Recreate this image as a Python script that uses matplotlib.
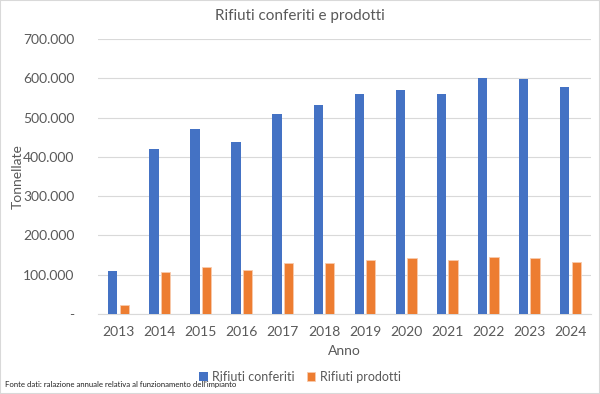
import matplotlib.pyplot as plt
import numpy as np
from matplotlib.ticker import FuncFormatter
from matplotlib.patches import Rectangle

plt.rcParams["font.family"] = ["Lato", "DejaVu Sans"]

# data (tonnes)
anni = ["2013", "2014", "2015", "2016", "2017", "2018",
        "2019", "2020", "2021", "2022", "2023", "2024"]
conferiti = [110000, 419000, 471000, 438000, 510000, 532000,
             561000, 570000, 560000, 600000, 599000, 577000]
prodotti = [22000, 107000, 119000, 112000, 129000, 131000,
            138000, 142000, 138000, 146000, 142000, 133000]

blu = "#4472C4"
arancio = "#ED7D31"
grigio = "#595959"

fig = plt.figure(figsize=(6.0, 3.94), dpi=100)
ax = fig.add_axes([98 / 600, 1 - 314 / 394, (591 - 98) / 600, (314 - 39) / 394])

x = np.arange(len(anni))
w = 0.226
off = 0.14
ax.bar(x - off, conferiti, w, color=blu, label="Rifiuti conferiti", zorder=3)
ax.bar(x + off, prodotti, w, color=arancio, edgecolor="#F8CBAD", linewidth=0.6,
       label="Rifiuti prodotti", zorder=3)

ax.set_xlim(-0.5, len(anni) - 0.5)
ax.set_ylim(0, 700000)
ax.set_yticks(np.arange(0, 700001, 100000))


def fmt(v, pos):
    if v == 0:
        return "-"
    return f"{int(v):,}".replace(",", ".")


ax.yaxis.set_major_formatter(FuncFormatter(fmt))
ax.set_xticks(x)
ax.set_xticklabels(anni)
ax.tick_params(axis="both", length=0, labelsize=10, colors=grigio)
ax.tick_params(axis="y", pad=17)
ax.tick_params(axis="x", pad=9)
ax.grid(axis="y", color="#D9D9D9", linewidth=0.8, zorder=0)
for s in ["top", "right", "left"]:
    ax.spines[s].set_visible(False)
ax.spines["bottom"].set_color("#D9D9D9")
ax.spines["bottom"].set_linewidth(0.8)

ax.set_xlabel("Anno", fontsize=10, color=grigio, labelpad=5)
ax.set_ylabel("Tonnellate", fontsize=10, color=grigio)
ax.yaxis.set_label_coords(-74 / 493, 0.5)
fig.text(0.5, 1 - 16 / 394, "Rifiuti conferiti e prodotti", ha="center", va="center",
         fontsize=11, color=grigio)

fig.legend(loc="center", bbox_to_anchor=(0.5, 1 - 377 / 394), ncol=2, frameon=False,
           fontsize=9, labelcolor=grigio, handlelength=0.65, handleheight=0.65,
           columnspacing=1.0, handletextpad=0.35)

fig.text(5 / 600, 1 - 385 / 394, "Fonte dati: ralazione annuale relativa al funzionamento dell'impianto",
         ha="left", va="center", fontsize=5.6, color="#202020",
         family=["Liberation Sans Narrow", "Lato"])

fig.patches.append(Rectangle((0, 0), 1, 1, transform=fig.transFigure, fill=False,
                             edgecolor="#D9D9D9", linewidth=1.5))

plt.savefig("out.png", dpi=100)
plt.close()
